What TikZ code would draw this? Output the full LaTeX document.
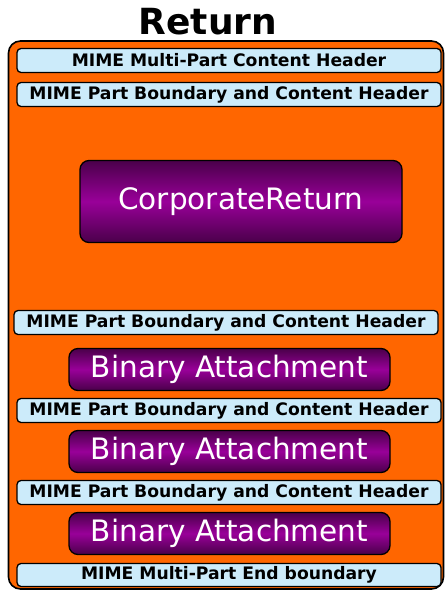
\documentclass[tikz,border=0pt]{standalone}
\usepackage{fontspec}
\setmainfont{DejaVu Sans}
\definecolor{envorange}{HTML}{FF6600}
\definecolor{hdrblue}{HTML}{CCEBFA}
\definecolor{partdark}{HTML}{4A004A}
\definecolor{partlight}{HTML}{990099}
\tikzset{
  header/.style={draw=black, line width=1.3pt, fill=hdrblue, rounded corners=4pt,
    minimum width=424pt, minimum height=24pt, inner sep=0pt,
    font=\fontsize{17.2}{20}\selectfont\bfseries},
  part/.style={draw=black, line width=1.3pt, rounded corners=9pt, top color=partdark,
    bottom color=partdark, middle color=partlight, text=white, inner sep=0pt,
    minimum width=321pt, font=\fontsize{29.5}{32}\selectfont},
}

\begin{document}
\begin{tikzpicture}[x=1pt,y=1pt,yscale=-1]
            \useasboundingbox (0,0) rectangle (445,591);
            % envelope
            \node[draw=black, line width=1.6pt, fill=envorange, rounded corners=12pt,
              minimum width=435pt, minimum height=548pt] (env) at (226,315) {};
            \node[font=\fontsize{36}{40}\selectfont\bfseries] (title) at (208,22) {Return};
            % headers and parts
            \node[header] (mphead) at (229,60.5) {MIME Multi-Part Content Header};
            \node[header] (bound1) at (229,94.5) {MIME Part Boundary and Content Header};
            \node[part, minimum width=322pt, minimum height=82pt] (corp) at (241,201.5) {CorporateReturn};
            \node[header] (bound2) at (226,322.5) {MIME Part Boundary and Content Header};
            \node[part, minimum height=42pt] (bin1) at (229.5,369.5) {Binary Attachment};
            \node[header] (bound3) at (229,410.5) {MIME Part Boundary and Content Header};
            \node[part, minimum height=42pt] (bin2) at (229.5,451.5) {Binary Attachment};
            \node[header] (bound4) at (229,492.5) {MIME Part Boundary and Content Header};
            \node[part, minimum height=42pt] (bin3) at (229.5,533.5) {Binary Attachment};
            \node[header, minimum height=23pt] (mpend) at (229,575) {MIME Multi-Part End boundary};
        \end{tikzpicture}
\end{document}
